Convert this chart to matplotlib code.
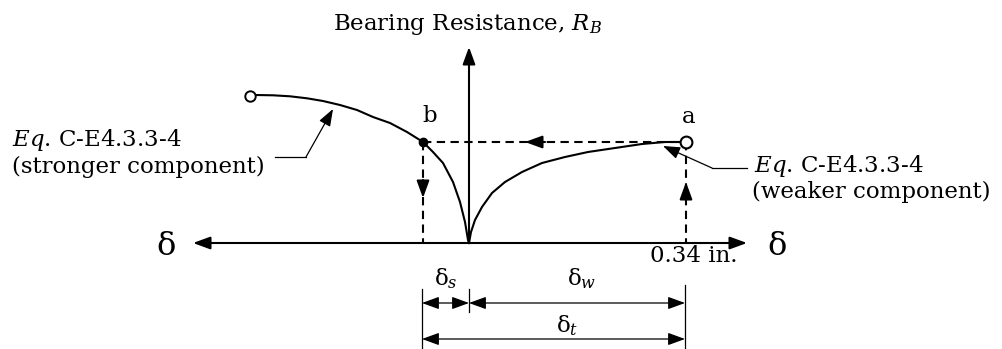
import numpy as np
import matplotlib
matplotlib.use('Agg')
import matplotlib.pyplot as plt

plt.rcParams['font.family'] = ['DejaVu Serif']
plt.rcParams['mathtext.fontset'] = 'custom'
plt.rcParams['mathtext.rm'] = 'DejaVu Serif'
plt.rcParams['mathtext.it'] = 'DejaVu Serif:italic'

# diagram, in pixel-like units (y grows downwards)
origin = (469, 243)
axis_x_ends = (193, 747)
axis_y_top = 47

strong_x = [250, 255, 273, 290, 307, 323, 340, 357, 373, 390, 407, 423,
            433, 443, 453, 460, 465, 468, 469]
strong_y = [96, 95, 95.3, 96.3, 98.3, 101, 105, 110, 117, 123, 132, 142,
            152, 163, 182, 202, 222, 240, 243]
weak_x = [469, 471, 475, 482, 492, 505, 522, 542, 565, 588, 615, 642, 665, 686]
weak_y = [243, 232, 220, 207, 193, 182, 172, 163, 157, 152, 148, 144, 142, 142]

point_a = (686, 142)
point_b = (423, 142)
dim_x = [422, 469, 685]           # delta_s | delta_w boundaries
dim_rows = [303, 339]

LW = 1.5
head = '-|>,head_length=0.52,head_width=0.19'
both = '<|-|>,head_length=0.52,head_width=0.19'


def arrow(ax, start, end, style=head, lw=LW, ls='-'):
    ax.annotate('', xy=end, xytext=start,
                arrowprops=dict(arrowstyle=style, color='k', lw=lw, ls=ls,
                                shrinkA=0, shrinkB=0, mutation_scale=20))


fig = plt.figure(figsize=(10.02, 3.49), dpi=100)
ax = fig.add_axes([0, 0, 1, 1])
ax.set_xlim(0, 1002)
ax.set_ylim(349, 0)
ax.axis('off')

# axes of the diagram
arrow(ax, origin, (axis_x_ends[0], origin[1]))
arrow(ax, origin, (axis_x_ends[1], origin[1]))
arrow(ax, origin, (origin[0], axis_y_top))

# curves
ax.plot(strong_x, strong_y, c='k', lw=LW)
ax.plot(weak_x, weak_y, c='k', lw=LW)
ax.plot(strong_x[0], strong_y[0], 'o', mfc='white', mec='k', ms=7.5, mew=1.4)
ax.plot(*point_a, 'o', mfc='white', mec='k', ms=8.5, mew=1.5, zorder=4)
ax.plot(*point_b, 'o', color='k', ms=6, zorder=4)

# dashed unloading path
dash = (0, (4, 2.6))
ax.plot([point_b[0], point_a[0]], [point_b[1], point_a[1]], c='k', lw=LW, ls=dash)
ax.plot([point_b[0], point_b[0]], [point_b[1], origin[1]], c='k', lw=LW, ls=dash)
ax.plot([point_a[0], point_a[0]], [point_a[1], origin[1]], c='k', lw=LW, ls=dash)
arrow(ax, (545, point_a[1]), (525, point_a[1]))
arrow(ax, (point_b[0], 180), (point_b[0], 198))
arrow(ax, (point_a[0], 200), (point_a[0], 182))

# leaders to the equations
ax.plot([275, 306], [157, 157], c='k', lw=0.9)
arrow(ax, (306, 157), (333, 109), lw=0.9)
ax.plot([747, 712], [168, 168], c='k', lw=0.9)
arrow(ax, (712, 168), (663, 146), lw=0.9)

# dimension lines
ax.plot([dim_x[0]] * 2, [289, 349], c='k', lw=0.9)
ax.plot([dim_x[1]] * 2, [289, 312], c='k', lw=0.9)
ax.plot([dim_x[2]] * 2, [285, 349], c='k', lw=0.9)
arrow(ax, (dim_x[0], dim_rows[0]), (dim_x[1], dim_rows[0]), style=both, lw=0.9)
arrow(ax, (dim_x[1], dim_rows[0]), (dim_x[2], dim_rows[0]), style=both, lw=0.9)
arrow(ax, (dim_x[0], dim_rows[1]), (dim_x[2], dim_rows[1]), style=both, lw=0.9)

# text
fs = 16.5
kw = dict(va='baseline', fontsize=fs)
ax.text(468, 30, 'Bearing Resistance, $R_B$', ha='center', **kw)
ax.text(166, 255, 'δ', ha='center', va='baseline', fontsize=23)
ax.text(777, 255, 'δ', ha='center', va='baseline', fontsize=23)
ax.text(689, 123, 'a', ha='center', **kw)
ax.text(430, 122, 'b', ha='center', **kw)
ax.text(694, 262, '0.34 in.', ha='center', **kw)
ax.text(12, 146, r'$Eq$. C-E4.3.3-4', ha='left', **kw)
ax.text(12, 173, '(stronger component)', ha='left', **kw)
ax.text(754, 172, r'$Eq$. C-E4.3.3-4', ha='left', **kw)
ax.text(752, 198, '(weaker component)', ha='left', **kw)
ax.text(446, 285, 'δ$_s$', ha='center', **kw)
ax.text(582, 285, 'δ$_w$', ha='center', **kw)
ax.text(567, 332, 'δ$_t$', ha='center', **kw)

fig.savefig('out.png', dpi=100)
